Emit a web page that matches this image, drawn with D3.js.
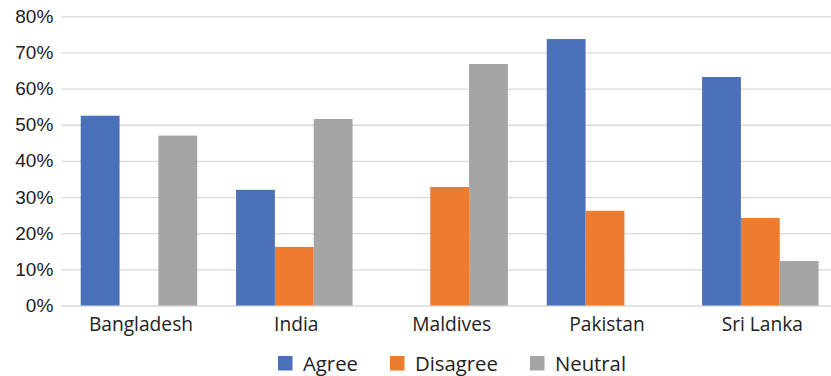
<!DOCTYPE html>
<html>
<head>
<meta charset="utf-8">
<script src="https://cdn.jsdelivr.net/npm/d3@7"></script>
<style>
  html, body { margin: 0; padding: 0; background: #fff; }
  svg { display: block; font-family: "Lato", "Noto Sans", sans-serif; }
  .label { font-family: "Open Sans", "Noto Sans", sans-serif; }
</style>
</head>
<body>
<svg id="chart" width="831" height="376"></svg>
<script>
// Share of responses per country (percent)
const categories = ["Bangladesh", "India", "Maldives", "Pakistan", "Sri Lanka"];
const seriesNames = ["Agree", "Disagree", "Neutral"];
const agree    = [52.5, 32.0, 0, 73.7, 63.2];
const disagree = [0, 16.2, 32.8, 26.2, 24.2];
const neutral  = [47.0, 51.6, 66.8, 0, 12.3];
const yTicks = [0, 10, 20, 30, 40, 50, 60, 70, 80];
const colors = ["#4A71B8", "#EC7D30", "#A5A5A5"];

const seriesValues = [agree, disagree, neutral];
const rows = categories.map((c, i) => ({
  category: c,
  values: seriesNames.map((s, k) => ({ series: s, value: seriesValues[k][i] }))
}));

const svg = d3.select("#chart");
const margin = { left: 61.3, right: -7, top: 16.3, bottom: 70.5 };
const width = 831, height = 376;

const x = d3.scaleBand()
  .domain(categories)
  .range([margin.left, width - margin.right])
  .paddingInner(0.25)
  .paddingOuter(0.125);

const x1 = d3.scaleBand()
  .domain(seriesNames)
  .range([0, x.bandwidth()]);

const y = d3.scaleLinear()
  .domain([0, 80])
  .range([height - margin.bottom, margin.top]);

const color = d3.scaleOrdinal().domain(seriesNames).range(colors);

// horizontal gridlines + y labels
const yAxis = d3.axisLeft(y)
  .tickValues(yTicks)
  .tickFormat(d => d + "%")
  .tickSize(-(width - margin.left))
  .tickPadding(8);

const gy = svg.append("g")
  .attr("transform", `translate(${margin.left},0)`)
  .call(yAxis);
gy.select(".domain").remove();
gy.selectAll(".tick line").attr("stroke", "#D9D9D9").attr("stroke-width", 1.3);
gy.selectAll(".tick text")
  .attr("fill", "#222")
  .style("font-size", "19px")
  .attr("x", -8);

// bars
const groups = svg.append("g").selectAll("g")
  .data(rows)
  .join("g")
  .attr("transform", d => `translate(${x(d.category)},0)`);

groups.selectAll("rect")
  .data(d => d.values)
  .join("rect")
  .attr("x", d => x1(d.series))
  .attr("width", x1.bandwidth())
  .attr("y", d => y(d.value))
  .attr("height", d => y(0) - y(d.value))
  .attr("fill", d => color(d.series));

// category labels
const xAxis = d3.axisBottom(x).tickSize(0).tickPadding(12);
const gx = svg.append("g")
  .attr("transform", `translate(2,${y(0)})`)
  .call(xAxis);
gx.select(".domain").remove();
gx.selectAll(".tick text")
  .attr("class", "label")
  .attr("fill", "#222")
  .style("font-size", "19.2px");

// legend
const legendItems = [
  { name: "Agree", x: 278 },
  { name: "Disagree", x: 390 },
  { name: "Neutral", x: 530 }
];
const legend = svg.append("g").selectAll("g")
  .data(legendItems)
  .join("g")
  .attr("transform", d => `translate(${d.x},356)`);
legend.append("rect")
  .attr("width", 14.5).attr("height", 14.5)
  .attr("fill", d => color(d.name));
legend.append("text")
  .attr("class", "label")
  .attr("x", 25).attr("y", 15)
  .attr("fill", "#222")
  .style("font-size", "20.3px")
  .text(d => d.name);
</script>
</body>
</html>
